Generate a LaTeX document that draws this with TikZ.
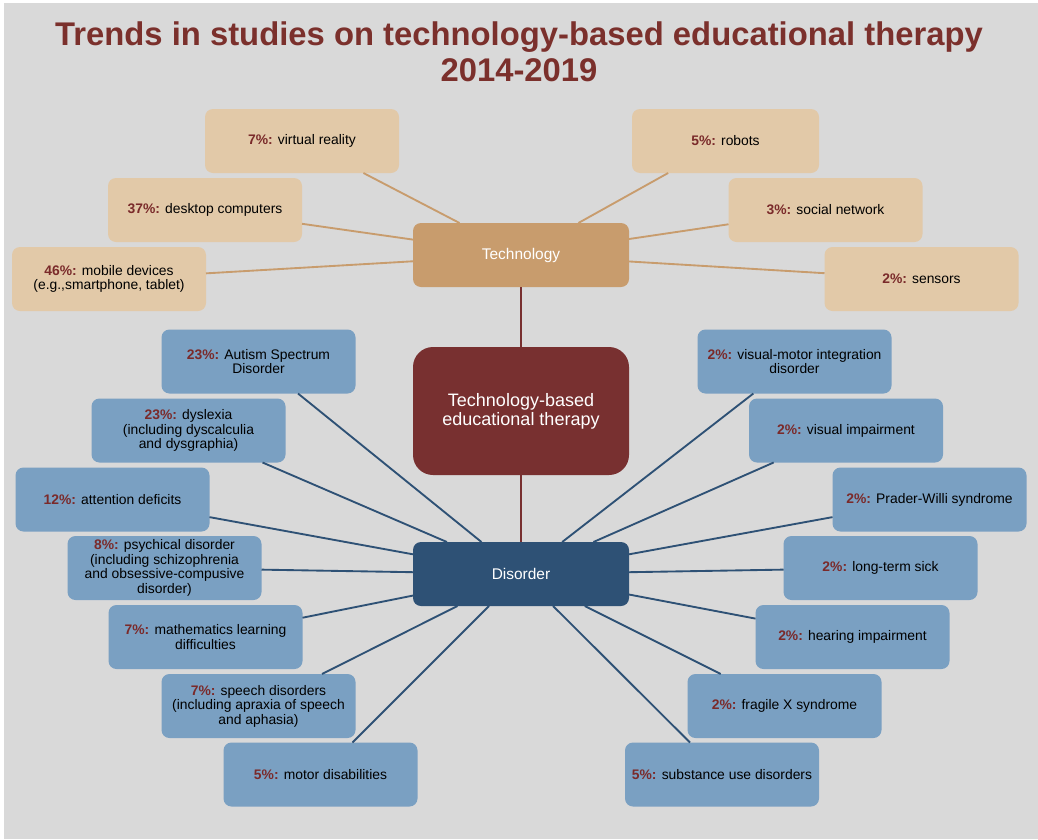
\documentclass[tikz,border=0pt]{standalone}
\usepackage{fontspec}
\setmainfont{Liberation Sans}
\definecolor{bg}{HTML}{D9D9D9}
\definecolor{tanlight}{HTML}{E2C9A8}
\definecolor{tandark}{HTML}{C89C6D}
\definecolor{bluelight}{HTML}{7AA0C2}
\definecolor{navy}{HTML}{2E5175}
\definecolor{maroon}{HTML}{783030}
\definecolor{pct}{HTML}{7A2A2A}
\definecolor{titlec}{HTML}{7B302C}
\newcommand{\pcnt}[1]{\textbf{\color{pct}#1}}
\begin{document}
\begin{tikzpicture}[x=0.75pt,y=-0.75pt,
  leaf/.style={rounded corners=6pt, minimum width=145.5pt, minimum height=48pt, inner sep=2pt, outer sep=0pt, align=center, font=\fontsize{10.4}{10.9}\selectfont, text=black},
  tleaf/.style={leaf, fill=tanlight},
  dleaf/.style={leaf, fill=bluelight},
  hub/.style={rounded corners=6pt, minimum width=162pt, minimum height=48pt, inner sep=2pt, outer sep=0pt, text=white, align=center, font=\fontsize{11.6}{14}\selectfont},
  tline/.style={draw=tandark, line width=1.4pt},
  dline/.style={draw=navy, line width=1.4pt},
  cline/.style={draw=maroon, line width=1.4pt},
  titletext/.style={text=titlec, font=\fontsize{24.6}{29}\selectfont\bfseries, anchor=base, inner sep=0pt}]
\fill[white] (0,0) rectangle (1038,839);
\fill[bg] (4,3) rectangle (1038,839);
\useasboundingbox (0,0) rectangle (1038,839);

\node[titletext] (t1) at (519,45) {Trends in studies on technology-based educational therapy};
\node[titletext] (t2) at (519,81) {2014-2019};

% hubs
\node[hub, fill=tandark] (tech) at (521,255) {Technology};
\node[hub, fill=maroon, minimum height=96pt, rounded corners=15pt, font=\fontsize{13.5}{14.3}\selectfont] (core) at (521,411) {Technology-based\\educational therapy};
\node[hub, fill=navy] (dis) at (521,574) {Disorder};

% technology leaves
\node[tleaf] (vr) at (302,141) {\pcnt{7\%:} virtual reality};
\node[tleaf] (desk) at (205,210) {\pcnt{37\%:} desktop computers};
\node[tleaf] (mob) at (109,279) {\pcnt{46\%:} mobile devices\\(e.g.,smartphone, tablet)};
\node[tleaf, minimum width=140.25pt] (rob) at (725.5,141) {\pcnt{5\%:} robots};
\node[tleaf] (soc) at (825.5,210) {\pcnt{3\%:} social network};
\node[tleaf] (sens) at (921.5,279) {\pcnt{2\%:} sensors};

% disorder leaves left
\node[dleaf] (aut) at (258.5,361.5) {\pcnt{23\%:} Autism Spectrum\\Disorder};
\node[dleaf] (dys) at (188.5,430.5) {\pcnt{23\%:} dyslexia\\(including dyscalculia\\and dysgraphia)};
\node[dleaf] (att) at (112.5,499.5) {\pcnt{12\%:} attention deficits};
\node[dleaf] (psy) at (164.5,568) {\pcnt{8\%:} psychical disorder\\(including schizophrenia\\and obsessive-compusive\\disorder)};
\node[dleaf] (mat) at (205.5,637) {\pcnt{7\%:} mathematics learning\\difficulties};
\node[dleaf] (spe) at (258.5,706) {\pcnt{7\%:} speech disorders\\(including apraxia of speech\\and aphasia)};
\node[dleaf] (mot) at (320.5,774.5) {\pcnt{5\%:} motor disabilities};

% disorder leaves right
\node[dleaf] (vmi) at (794.5,361.5) {\pcnt{2\%:} visual-motor integration\\disorder};
\node[dleaf] (vis) at (846,430.5) {\pcnt{2\%:} visual impairment};
\node[dleaf] (pws) at (929.5,499.5) {\pcnt{2\%:} Prader-Willi syndrome};
\node[dleaf] (lts) at (880.5,568) {\pcnt{2\%:} long-term sick};
\node[dleaf] (hea) at (852.5,637) {\pcnt{2\%:} hearing impairment};
\node[dleaf] (frx) at (784.5,706) {\pcnt{2\%:} fragile X syndrome};
\node[dleaf] (sub) at (722,774.5) {\pcnt{5\%:} substance use disorders};

% connectors
\draw[cline] (tech) -- (core);
\draw[cline] (core) -- (dis);
\foreach \n in {vr,desk,mob,rob,soc,sens} \draw[tline] (tech) -- (\n);
\foreach \n in {aut,dys,att,psy,mat,spe,mot,vmi,vis,pws,lts,hea,frx,sub} \draw[dline] (dis) -- (\n);
\end{tikzpicture}
\end{document}
